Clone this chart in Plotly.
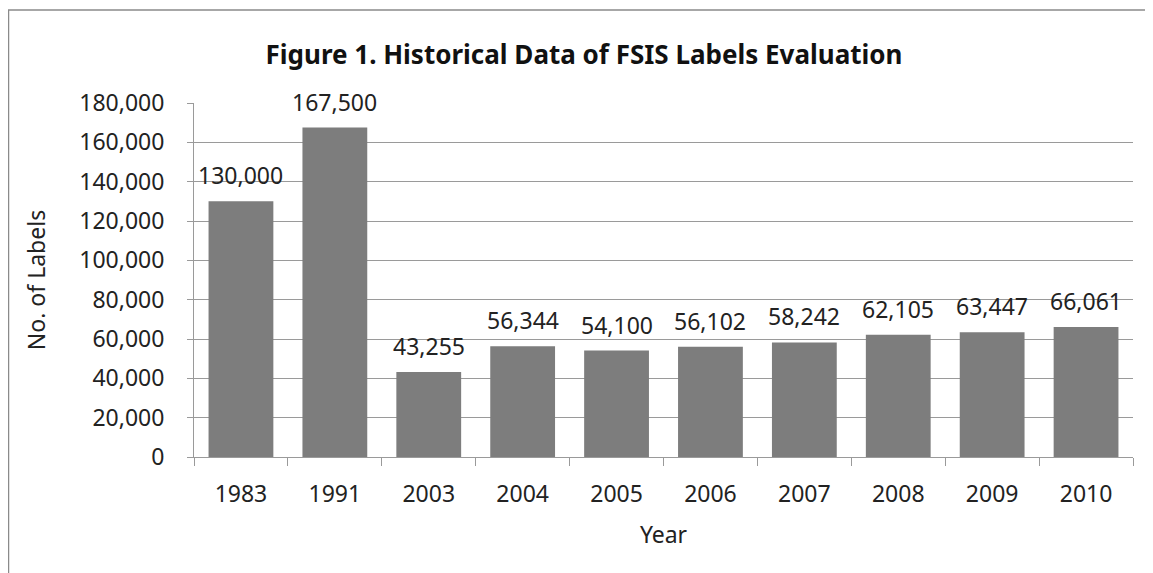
import plotly.graph_objects as go

years = ["1983", "1991", "2003", "2004", "2005", "2006", "2007", "2008", "2009", "2010"]
labels_count = [130000, 167500, 43255, 56344, 54100, 56102, 58242, 62105, 63447, 66061]

FONT = "Noto Sans"
# page has an 8px body margin; compensate so the plot sits where the reference has it
W, H = 1145, 565
L, R, T, B = 186, 20, 95, 116

fig = go.Figure()
fig.add_trace(go.Bar(
    x=years, y=labels_count,
    marker=dict(color="#7d7d7d", line=dict(width=0)),
    hoverinfo="x+y",
))

for i, v in enumerate(labels_count):
    fig.add_annotation(x=i, y=v, text=f"{v:,}", showarrow=False,
                       xref="x", yref="y",
                       yanchor="bottom", yshift=8,
                       font=dict(family=FONT, size=23, color="#222222"))

pw = W - L - R
ph = H - T - B
fig.add_shape(type="rect", xref="paper", yref="paper",
              x0=(0.5 - L) / pw, x1=(W + 10 - L) / pw,
              y0=-(B + 20) / ph, y1=1 + (T - 2) / ph,
              line=dict(color="#8a8a8a", width=1.5), layer="below")

fig.update_layout(
    width=W, height=H,
    margin=dict(l=L, r=R, t=T, b=B, pad=0),
    paper_bgcolor="white", plot_bgcolor="white",
    bargap=0.31,
    showlegend=False,
    title=dict(text="<b>Figure 1. Historical Data of FSIS Labels Evaluation</b>",
               x=(584 - 8) / W, xanchor="center", y=1 - (55 - 8) / H, yanchor="middle",
               font=dict(family=FONT, size=26, color="#111111")),
    font=dict(family=FONT, size=23, color="#222222"),
)

fig.update_yaxes(
    range=[0, 180000], dtick=20000, tickformat=",",
    showgrid=True, gridcolor="#9a9a9a", gridwidth=1,
    showline=True, linecolor="#9a9a9a", linewidth=1,
    ticks="outside", ticklen=6, tickcolor="#9a9a9a",
    ticklabelstandoff=18,
    tickfont=dict(family=FONT, size=23, color="#222222"),
    title=dict(text="No. of Labels", standoff=27,
               font=dict(family=FONT, size=23, color="#222222")),
    zeroline=False, automargin=False,
)
fig.update_xaxes(
    type="category", range=[-0.5, 9.5],
    showline=True, linecolor="#9a9a9a", linewidth=1,
    ticks="outside", ticklen=8, tickcolor="#9a9a9a", tickson="boundaries",
    ticklabelstandoff=16,
    tickfont=dict(family=FONT, size=23, color="#222222"),
    title=dict(text="Year", standoff=19,
               font=dict(family=FONT, size=23, color="#222222")),
    showgrid=False, automargin=False,
)

fig.write_html("out.html")
